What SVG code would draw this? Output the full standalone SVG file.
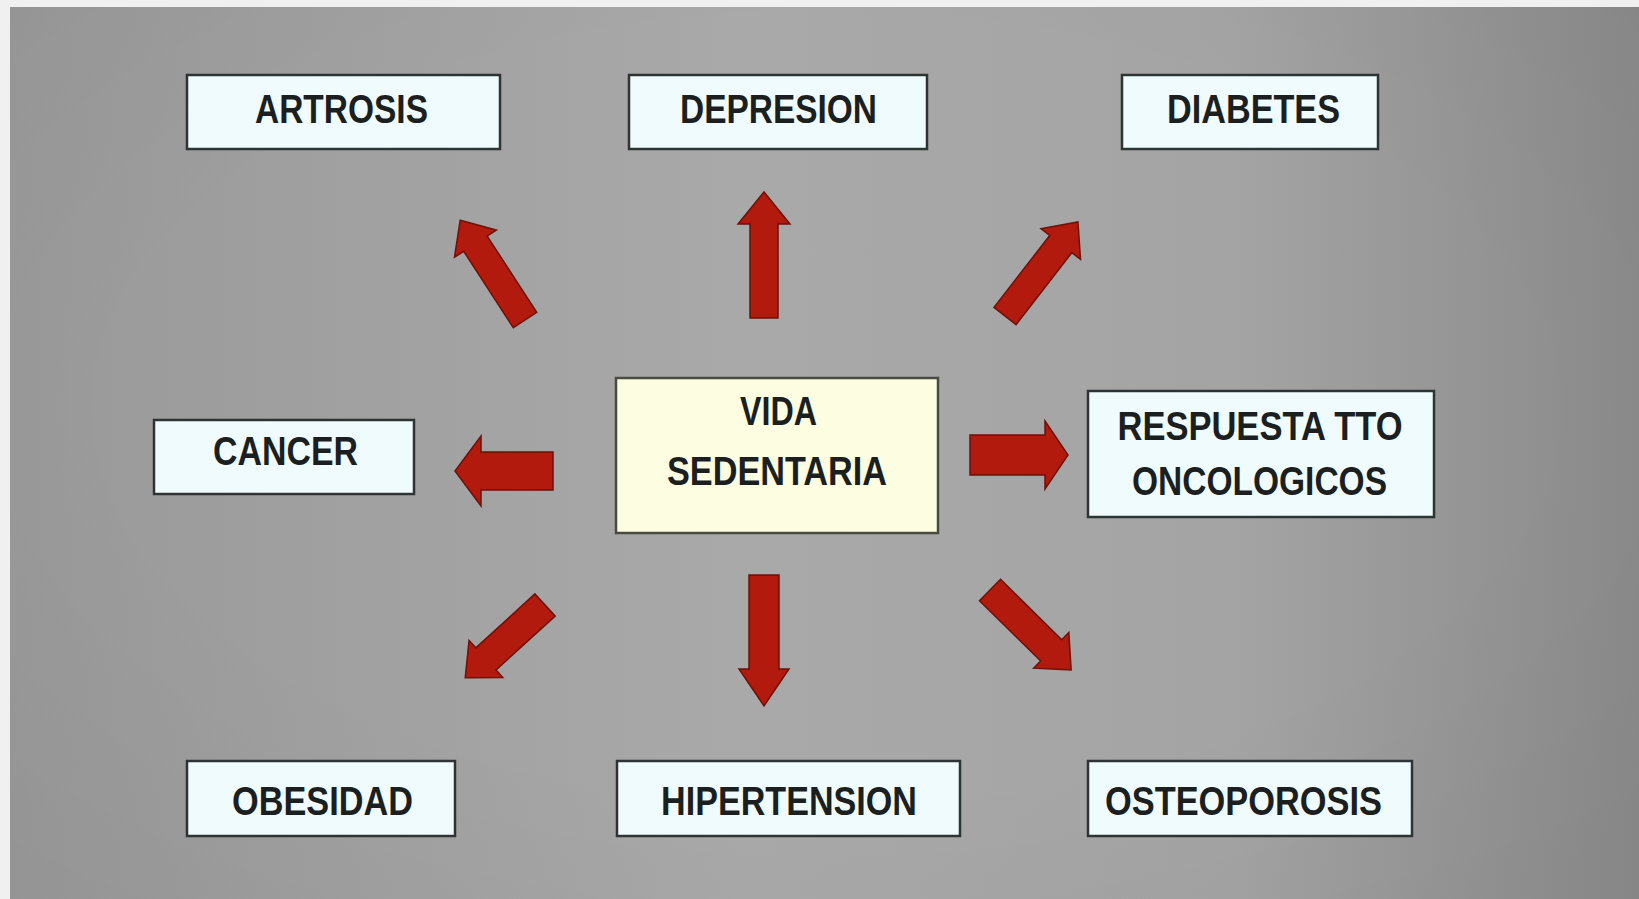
<svg xmlns="http://www.w3.org/2000/svg" width="1639" height="899" viewBox="0 0 1639 899">
<defs>
<linearGradient id="bg" x1="0" y1="0" x2="1" y2="0">
<stop offset="0" stop-color="#999999"/>
<stop offset="0.45" stop-color="#a9a9a9"/>
<stop offset="0.75" stop-color="#a4a4a4"/>
<stop offset="1" stop-color="#8a8a8a"/>
</linearGradient>
<radialGradient id="vig" cx="0.5" cy="0.45" r="0.7">
<stop offset="0.6" stop-color="#000" stop-opacity="0"/>
<stop offset="1" stop-color="#000" stop-opacity="0.03"/>
</radialGradient>
</defs>
<style>
.box{fill:#f0fbfd;stroke:#2e3434;stroke-width:2.5}
.center{fill:#fdfde2;stroke:#4a4a40;stroke-width:2.5}
.lbl{font-family:"Liberation Sans",Arial,sans-serif;font-weight:bold;font-size:41px;fill:#1c1f1f;text-anchor:middle}
.arr{fill:#b11a0d;stroke:#6e1108;stroke-width:1.5;stroke-linejoin:miter}
</style>
<rect x="0" y="0" width="1639" height="899" fill="#f0f0f0"/>
<rect x="10" y="7" width="1629" height="892" fill="url(#bg)"/>
<rect x="10" y="7" width="1629" height="892" fill="url(#vig)"/>

<g id="connectors">
<path class="arr" transform="translate(764,318) rotate(-90)" d="M0,-14 L94,-14 L94,-26 L126,0 L94,26 L94,14 L0,14 Z"/>
<path class="arr" transform="translate(525,320) rotate(-123)" d="M0,-14 L91,-14 L91,-25 L119,0 L91,25 L91,14 L0,14 Z"/>
<path class="arr" transform="translate(1005,316) rotate(-52.2)" d="M0,-14 L91,-14 L91,-25 L119,0 L91,25 L91,14 L0,14 Z"/>
<path class="arr" transform="translate(553,471) rotate(180)" d="M0,-19 L72,-19 L72,-35 L98,0 L72,35 L72,19 L0,19 Z"/>
<path class="arr" transform="translate(970,455)" d="M0,-20 L75,-20 L75,-34 L98,0 L75,34 L75,20 L0,20 Z"/>
<path class="arr" transform="translate(764,575) rotate(90)" d="M0,-15 L94,-15 L94,-25 L131,0 L94,25 L94,15 L0,15 Z"/>
<path class="arr" transform="translate(545,605) rotate(137.6)" d="M0,-15 L80,-15 L80,-25 L108,0 L80,25 L80,15 L0,15 Z"/>
<path class="arr" transform="translate(990,590) rotate(44.6)" d="M0,-15 L86,-15 L86,-25 L114,0 L86,25 L86,15 L0,15 Z"/>
</g>

<g id="node-artrosis">
<rect class="box" x="187" y="75" width="313" height="74"/>
<text class="lbl" x="341.5" y="123" textLength="173" lengthAdjust="spacingAndGlyphs">ARTROSIS</text>
</g>
<g id="node-depresion">
<rect class="box" x="629" y="75" width="298" height="74"/>
<text class="lbl" x="778.5" y="123" textLength="197" lengthAdjust="spacingAndGlyphs">DEPRESION</text>
</g>
<g id="node-diabetes">
<rect class="box" x="1122" y="75" width="256" height="74"/>
<text class="lbl" x="1253.5" y="123" textLength="173" lengthAdjust="spacingAndGlyphs">DIABETES</text>
</g>
<g id="node-cancer">
<rect class="box" x="154" y="420" width="260" height="74"/>
<text class="lbl" x="285.5" y="465" textLength="145" lengthAdjust="spacingAndGlyphs">CANCER</text>
</g>
<g id="node-vida">
<rect class="center" x="616" y="378" width="322" height="155"/>
<text class="lbl" x="778.5" y="425" textLength="77" lengthAdjust="spacingAndGlyphs">VIDA</text>
<text class="lbl" x="777" y="485" textLength="220" lengthAdjust="spacingAndGlyphs">SEDENTARIA</text>
</g>
<g id="node-respuesta">
<rect class="box" x="1088" y="391" width="346" height="126"/>
<text class="lbl" x="1260" y="440" textLength="285" lengthAdjust="spacingAndGlyphs">RESPUESTA TTO</text>
<text class="lbl" x="1259.5" y="495" textLength="255" lengthAdjust="spacingAndGlyphs">ONCOLOGICOS</text>
</g>
<g id="node-obesidad">
<rect class="box" x="187" y="761" width="268" height="75"/>
<text class="lbl" x="322.5" y="815" textLength="181" lengthAdjust="spacingAndGlyphs">OBESIDAD</text>
</g>
<g id="node-hipertension">
<rect class="box" x="617" y="761" width="343" height="75"/>
<text class="lbl" x="789" y="815" textLength="256" lengthAdjust="spacingAndGlyphs">HIPERTENSION</text>
</g>
<g id="node-osteoporosis">
<rect class="box" x="1088" y="761" width="324" height="75"/>
<text class="lbl" x="1243.5" y="815" textLength="277" lengthAdjust="spacingAndGlyphs">OSTEOPOROSIS</text>
</g>
</svg>
